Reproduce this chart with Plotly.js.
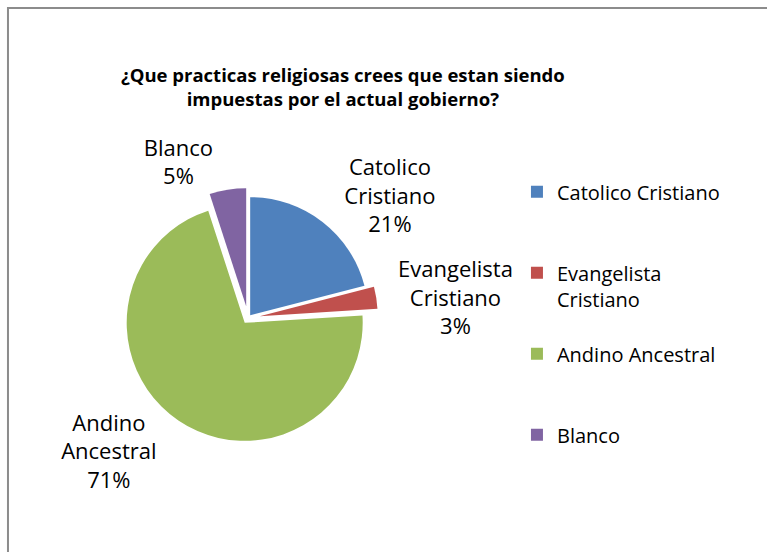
<!DOCTYPE html>
<html>
<head>
<meta charset="utf-8">
<script src="https://cdn.plot.ly/plotly-3.0.1.min.js"></script>
<style>
  html, body { margin: 0; padding: 0; background: #ffffff; }
  #chart { width: 767px; height: 552px; }
</style>
</head>
<body>
<div id="chart"></div>
<script>
// ---- data ----
const categories = ["Catolico Cristiano", "Evangelista Cristiano", "Andino Ancestral", "Blanco"];
const percentages = [21, 3, 71, 5];
const chartTitle = "¿Que practicas religiosas crees que estan siendo<br>impuestas por el actual gobierno?";

// ---- styles ----
const sliceColors = ["#4F81BD", "#C0504D", "#9BBB59", "#8064A2"];
const slicePull = [0.03, 0.1, 0.05, 0.1];
const FONT = "'Open Sans', 'Noto Sans', sans-serif";

// slice label text: name wrapped word by word (Excel style)
const sliceNames = categories.map(c => c.split(" ").join("<br>"));
// legend labels: long names wrap, items padded to give Excel's spacing
const legendLabels = categories.map((c, i) => {
  let lines = c.length > 18 ? c.split(" ") : [c];
  if (i < categories.length - 1) {
    while (lines.length < 3) lines.push(" ");
  }
  return lines.join("<br>");
});

const trace = {
  type: "pie",
  labels: legendLabels,
  values: percentages,
  customdata: sliceNames,
  sort: false,
  direction: "clockwise",
  rotation: 0,
  pull: slicePull,
  marker: { colors: sliceColors, line: { width: 0 } },
  textposition: "outside",
  texttemplate: "%{customdata}<br>%{percent}",
  hoverinfo: "label+percent",
  outsidetextfont: { family: FONT, size: 22, color: "#000000" },
  domain: { x: [0.1541, 0.4926], y: [0.1888, 0.6591] },
  automargin: false
};

const layout = {
  width: 767,
  height: 552,
  margin: { l: 0, r: 0, t: 0, b: 0 },
  paper_bgcolor: "#ffffff",
  plot_bgcolor: "#ffffff",
  font: { family: FONT, color: "#000000" },
  title: {
    text: "<b>" + chartTitle + "</b>",
    font: { family: FONT, size: 18.5, color: "#000000" },
    x: 0.447,
    xanchor: "center",
    xref: "paper",
    y: 0.852,
    yref: "container",
    yanchor: "top"
  },
  showlegend: true,
  legend: {
    x: 0.674,
    xanchor: "left",
    y: 0.688,
    yanchor: "top",
    valign: "top",
    font: { family: FONT, size: 20, color: "#000000" },
    bgcolor: "rgba(0,0,0,0)",
    borderwidth: 0
  },
  shapes: [
    {
      type: "path",
      xref: "paper", yref: "paper",
      path: "M 0.0104 0 L 0.0104 0.9855 L 1 0.9855",
      line: { color: "#8c8c8c", width: 2 }
    }
  ]
};

Plotly.newPlot("chart", [trace], layout, { displayModeBar: false, staticPlot: true });
</script>
</body>
</html>
